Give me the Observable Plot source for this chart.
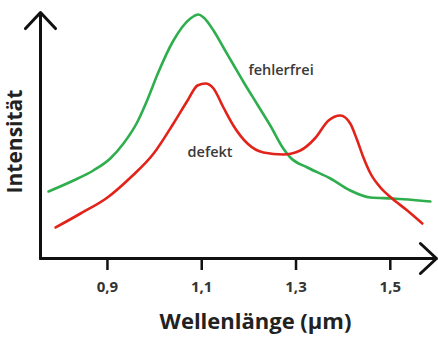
<!DOCTYPE html>
<html><head><meta charset="utf-8">
<script src="https://cdn.jsdelivr.net/npm/d3@7"></script>
<script src="https://cdn.jsdelivr.net/npm/@observablehq/plot@0.6"></script>
<style>body{margin:0;background:#fff}</style>
</head><body><div id="chart"></div>
<script>
const wavelengthGreen = [0.775,0.828,0.870,0.906,0.934,0.964,0.985,1.006,1.040,1.076,1.093,1.104,1.125,1.146,1.167,1.188,1.218,1.246,1.273,1.288,1.324,1.373,1.415,1.458,1.504,1.585];
const intensityGreen  = [26.8,31.2,35.2,40,46,54.8,63.6,73.6,87.2,96,97.6,96.4,91.2,84.4,77.6,70.8,61.6,53,44,40.4,36.4,32,27.2,24.4,24,22.8];
const wavelengthRed = [0.790,0.843,0.900,0.949,0.998,1.040,1.070,1.091,1.108,1.125,1.146,1.167,1.197,1.231,1.273,1.309,1.340,1.369,1.394,1.415,1.430,1.443,1.458,1.479,1.504,1.536,1.568];
const intensityRed  = [12.4,18,24.4,32.4,42,54,63.2,69.2,70,68,60.4,53.2,46,42.4,41.6,43.2,48,55.2,57.2,54,47.2,40.4,34,28.4,24,19.2,14];
const xTicks = [0.9, 1.1, 1.3, 1.5];
const seriesLabels = [
  {name: "fehlerfrei", x: 1.199, y: 75.2},
  {name: "defekt", x: 1.070, y: 42.4}
];
const xDomain = [0.758, 1.598];
const yDomain = [0, 100];

const green = wavelengthGreen.map((x, i) => ({x, y: intensityGreen[i]}));
const red = wavelengthRed.map((x, i) => ({x, y: intensityRed[i]}));

const chart = Plot.plot({
  width: 438, height: 340,
  marginLeft: 40, marginRight: 2, marginTop: 8, marginBottom: 82,
  style: {fontFamily: "'Open Sans', sans-serif", background: "#fff"},
  x: {domain: xDomain, axis: null},
  y: {domain: yDomain, axis: null},
  marks: [
    Plot.axisX({ticks: xTicks, tickSize: 12, tickPadding: 11, strokeWidth: 2.5, stroke: "#111", fill: "#333",
      fontSize: 15, fontWeight: "bold", tickFormat: d => String(d).replace(".", ","), label: null}),
    Plot.arrow([0], {x1: xDomain[0], y1: 0, x2: xDomain[1], y2: 0, stroke: "#111", strokeWidth: 3, headLength: 11, headAngle: 86}),
    Plot.arrow([0], {x1: xDomain[0], y1: 0, x2: xDomain[0], y2: 98.4, stroke: "#111", strokeWidth: 3, headLength: 11, headAngle: 86}),
    Plot.line(green, {x: "x", y: "y", stroke: "#2fae4e", strokeWidth: 2.6, curve: "monotone-x"}),
    Plot.line(red, {x: "x", y: "y", stroke: "#e2231a", strokeWidth: 2.6, curve: "monotone-x"}),
    Plot.text(seriesLabels, {x: "x", y: "y", text: "name", textAnchor: "start", fontSize: 14.5, fontWeight: 600, fill: "#3a3a3a"}),
    Plot.text(["Wellenlänge (µm)"], {frameAnchor: "bottom", lineAnchor: "middle", dx: 17, dy: 63, fontSize: 22, fontWeight: "bold", fill: "#222"}),
    Plot.text(["Intensität"], {frameAnchor: "left", textAnchor: "middle", lineAnchor: "middle", dx: -25, dy: 8, rotate: -90, fontSize: 21, fontWeight: "bold", fill: "#222"})
  ]
});
document.getElementById("chart").append(chart);
</script>
</body></html>
